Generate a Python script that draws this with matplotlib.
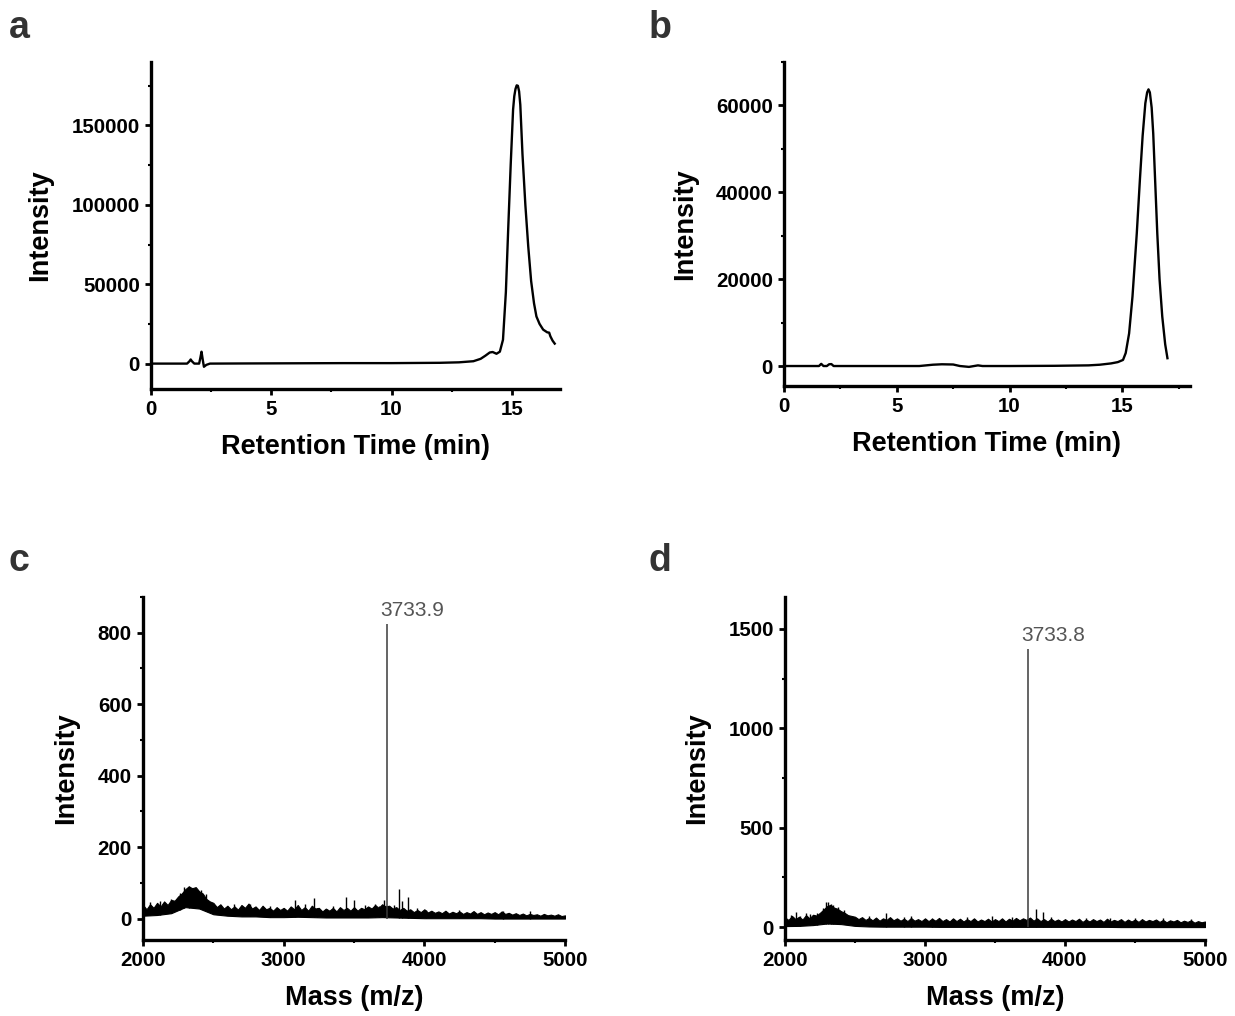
import matplotlib
matplotlib.use("Agg")
import matplotlib.pyplot as plt
from matplotlib.ticker import MultipleLocator
import numpy as np

plt.rcParams['font.family'] = ['Liberation Sans', 'DejaVu Sans']

# ---------------- data ----------------
# Panel a: HPLC chromatogram (time in min, intensity)
a_time = [0, 1.0, 1.5, 1.6, 1.65, 1.7, 1.8, 2.0, 2.05, 2.1, 2.15, 2.2, 2.3, 2.45, 4.0, 6.0,
          8.0, 10.0, 11.0, 12.0, 12.8, 13.4, 13.7, 13.9, 14.08, 14.2, 14.36, 14.5, 14.63,
          14.75, 14.85, 14.95, 15.05, 15.1, 15.15, 15.2, 15.25, 15.3, 15.35, 15.44, 15.56,
          15.68, 15.8, 15.92, 16.02, 16.15, 16.3, 16.47, 16.55, 16.6, 16.69, 16.78]
a_int = [0, 0, 0, 1500, 2600, 1500, 0, 0, 3500, 7500, 2500, -2000, -800, 0, 100, 200,
         300, 300, 400, 500, 800, 1500, 3000, 5000, 7000, 7300, 6200, 7500, 15000,
         45000, 86000, 125000, 160000, 168500, 173000, 175300, 175000, 171500, 163000, 132000, 100000,
         73800, 52000, 38000, 29700, 25000, 21400, 19700, 19500, 17200, 14500, 12600]

# Panel b: HPLC chromatogram
b_time = [0, 1.0, 1.55, 1.65, 1.75, 1.9, 2.0, 2.1, 2.2, 2.4, 4.0, 6.0, 6.6, 7.0, 7.5, 7.8,
          8.2, 8.6, 8.8, 10.0, 12.0, 13.5, 14.0, 14.5, 14.8, 15.03, 15.15, 15.3, 15.45, 15.64,
          15.78, 15.9, 16.02, 16.1, 16.16, 16.22, 16.3, 16.37, 16.46, 16.55, 16.65, 16.77,
          16.9, 17.0]
b_int = [0, 0, 0, 500, 0, 0, 400, 450, 0, 0, 0, 0, 300, 400, 350, 0,
         -200, 150, 0, 0, 50, 150, 300, 600, 900, 1400, 3000, 7500, 16000, 30500,
         43000, 53000, 60500, 63000, 63700, 63000, 59500, 53500, 42000, 30500, 20000, 11400,
         5000, 1800]

# Panel c: MALDI spectrum, noise band (upper envelope every 25 Da, lower every 100 Da)
c_mass_up = list(range(2000, 5001, 25))
c_upper = [38, 26, 40, 30, 44, 34, 48, 38, 52,
           50, 62, 70, 82, 90, 85, 88, 76, 70, 55, 48,
           44, 32, 40, 28, 36, 26, 34, 25, 38, 30, 42, 28, 34, 24, 36, 26, 30, 22, 32, 24,
           30, 22, 34, 26, 38, 24, 32, 22, 36, 28, 30, 20, 28, 22, 30, 20, 32, 24, 30, 22,
           32, 22, 30, 26, 34, 28, 38, 30, 40, 34, 36, 28, 32, 24, 30, 22, 26, 18, 24, 18,
           26, 17, 22, 16, 20, 15, 22, 14, 19, 15, 20, 13, 18, 14, 21, 13, 18, 12, 17, 13,
           18, 12, 20, 13, 16, 11, 15, 10, 14, 9, 13, 10, 12, 8, 13, 9, 11, 8, 12, 7, 9]
c_mass_lo = list(range(2000, 5001, 100))
c_lower = [8, 10, 15, 32, 28, 12, 8, 6, 6, 4, 4, 5, 4, 3, 3, 3, 3, 4, 3, 2, 1,
           1, 1, 1, 1, 0, 0, 0, 0, 0, 0]
c_spike_mass = [2050, 2120, 2200, 2260, 2290, 2330, 2370, 2410, 2450, 2650, 2760, 2900,
                3083, 3150, 3213, 3240, 3350, 3444, 3499, 3580, 3650, 3676, 3711, 3782,
                3823, 3839, 3882, 3950, 4010, 4250, 4560, 4750]
c_spike_int = [45, 48, 55, 72, 88, 92, 85, 80, 70, 42, 40, 35,
               53, 40, 58, 30, 35, 61, 53, 38, 42, 35, 53, 39,
               82, 49, 61, 30, 25, 25, 22, 20]
c_peak_mass = 3733.9
c_peak_int = 825
c_peak_label = "3733.9"

# Panel d: MALDI spectrum
d_mass_up = list(range(2000, 5001, 25))
d_upper = [48, 36, 56, 40, 52, 38, 60, 44, 62,
           58, 72, 88, 105, 112, 98, 92, 80, 72, 60, 56,
           52, 40, 50, 36, 46, 34, 48, 32, 44, 36, 50, 34, 44, 32, 42, 30, 46, 32, 40, 30,
           44, 30, 42, 32, 46, 30, 40, 28, 44, 30, 42, 28, 40, 30, 44, 28, 38, 30, 42, 28,
           40, 30, 44, 28, 42, 32, 46, 34, 44, 36, 48, 32, 44, 30, 40, 28, 42, 30, 38, 28,
           40, 28, 38, 30, 42, 26, 38, 28, 40, 30, 38, 26, 42, 28, 36, 30, 40, 26, 38, 28,
           38, 26, 40, 28, 36, 30, 38, 26, 36, 24, 34, 28, 36, 24, 32, 26, 34, 22, 30, 24, 28]
d_mass_lo = list(range(2000, 5001, 100))
d_lower = [5, 6, 10, 18, 15, 6, 3, 2, 2, 2, 2, 1, 1, 1, 1, 1, 1, 1, 1, 1, 1,
           1, 1, 1, 0, 0, 0, 0, 0, 0, 0]
d_spike_mass = [2040, 2080, 2110, 2150, 2180, 2230, 2270, 2290, 2310, 2330, 2345, 2380,
                2420, 2600, 2721, 2850, 2900, 3050, 3300, 3480, 3620, 3793, 3845, 3900,
                4150, 4321, 4500, 4700, 4900]
d_spike_int = [62, 77, 58, 70, 64, 72, 95, 127, 125, 118, 110, 100,
               88, 55, 69, 50, 55, 48, 50, 55, 52, 89, 77, 50,
               46, 44, 45, 44, 40]
d_peak_mass = 3733.8
d_peak_int = 1400
d_peak_label = "3733.8"

# ---------------- figure ----------------
W, H = 1235, 1016
fig = plt.figure(figsize=(W / 100, H / 100), dpi=100)


def ax_at(l, r, t, b):
    return fig.add_axes([l / W, 1 - b / H, (r - l) / W, (b - t) / H])


TICK_FS = 14.8
LAB_FS = 19.5


def style(ax):
    for s in ['top', 'right']:
        ax.spines[s].set_visible(False)
    for s in ['left', 'bottom']:
        ax.spines[s].set_linewidth(2.4)
    ax.tick_params(which='major', direction='out', length=4, width=2, pad=4,
                   labelsize=TICK_FS)
    ax.tick_params(which='minor', direction='out', length=2.5, width=1.5)
    for lab in ax.get_xticklabels() + ax.get_yticklabels():
        lab.set_fontweight('bold')


def letter(x, y, s):
    fig.text(x / W, 1 - y / H, s, fontsize=27, fontweight='bold', color='#333333',
             va='top', ha='left')


def labels(ax, xl):
    ax.set_xlabel(xl, fontsize=LAB_FS, fontweight='bold', labelpad=11)
    ax.set_ylabel('Intensity', fontsize=LAB_FS, fontweight='bold', labelpad=13)


# a
ax = ax_at(151, 560, 62, 389)
ax.plot(a_time, a_int, color='black', lw=1.7)
ax.set_xlim(0, 17)
ax.set_ylim(-16000, 190000)
ax.xaxis.set_major_locator(MultipleLocator(5))
ax.xaxis.set_minor_locator(MultipleLocator(2.5))
ax.set_yticks([0, 50000, 100000, 150000])
ax.yaxis.set_minor_locator(MultipleLocator(25000))
style(ax)
labels(ax, 'Retention Time (min)')
letter(9, 10, 'a')

# b
ax = ax_at(784, 1190, 62, 386)
ax.plot(b_time, b_int, color='black', lw=1.7)
ax.set_xlim(0, 18)
ax.set_ylim(-4600, 70000)
ax.xaxis.set_major_locator(MultipleLocator(5))
ax.xaxis.set_minor_locator(MultipleLocator(2.5))
ax.set_yticks([0, 20000, 40000, 60000])
ax.yaxis.set_minor_locator(MultipleLocator(10000))
style(ax)
labels(ax, 'Retention Time (min)')
letter(649, 10, 'b')


def spectrum(ax, mu, up, ml, lo, sm, si, pm, pi, lab):
    lo_i = np.interp(mu, ml, lo)
    ax.fill_between(mu, lo_i, up, color='black', lw=0.8, edgecolor='black')
    ax.vlines(sm, np.interp(sm, ml, lo), si, color='black', lw=1.0)
    ax.vlines([pm], [0], [pi], color='#3a3a3a', lw=1.1)
    ax.annotate(lab, xy=(pm, pi), xytext=(-5, 3), textcoords='offset points',
                ha='left', va='bottom', fontsize=15, color='#555555')


# c
ax = ax_at(143, 565, 597, 940)
spectrum(ax, c_mass_up, c_upper, c_mass_lo, c_lower, c_spike_mass, c_spike_int,
         c_peak_mass, c_peak_int, c_peak_label)
ax.set_xlim(2000, 5000)
ax.set_ylim(-60, 900)
ax.xaxis.set_major_locator(MultipleLocator(1000))
ax.xaxis.set_minor_locator(MultipleLocator(500))
ax.set_yticks([0, 200, 400, 600, 800])
ax.yaxis.set_minor_locator(MultipleLocator(100))
style(ax)
labels(ax, 'Mass (m/z)')
letter(9, 543, 'c')

# d
ax = ax_at(785, 1205, 597, 940)
spectrum(ax, d_mass_up, d_upper, d_mass_lo, d_lower, d_spike_mass, d_spike_int,
         d_peak_mass, d_peak_int, d_peak_label)
ax.set_xlim(2000, 5000)
ax.set_ylim(-65, 1660)
ax.xaxis.set_major_locator(MultipleLocator(1000))
ax.xaxis.set_minor_locator(MultipleLocator(500))
ax.set_yticks([0, 500, 1000, 1500])
ax.yaxis.set_minor_locator(MultipleLocator(250))
style(ax)
labels(ax, 'Mass (m/z)')
letter(649, 543, 'd')

fig.savefig('out.png', dpi=100, facecolor='white')
